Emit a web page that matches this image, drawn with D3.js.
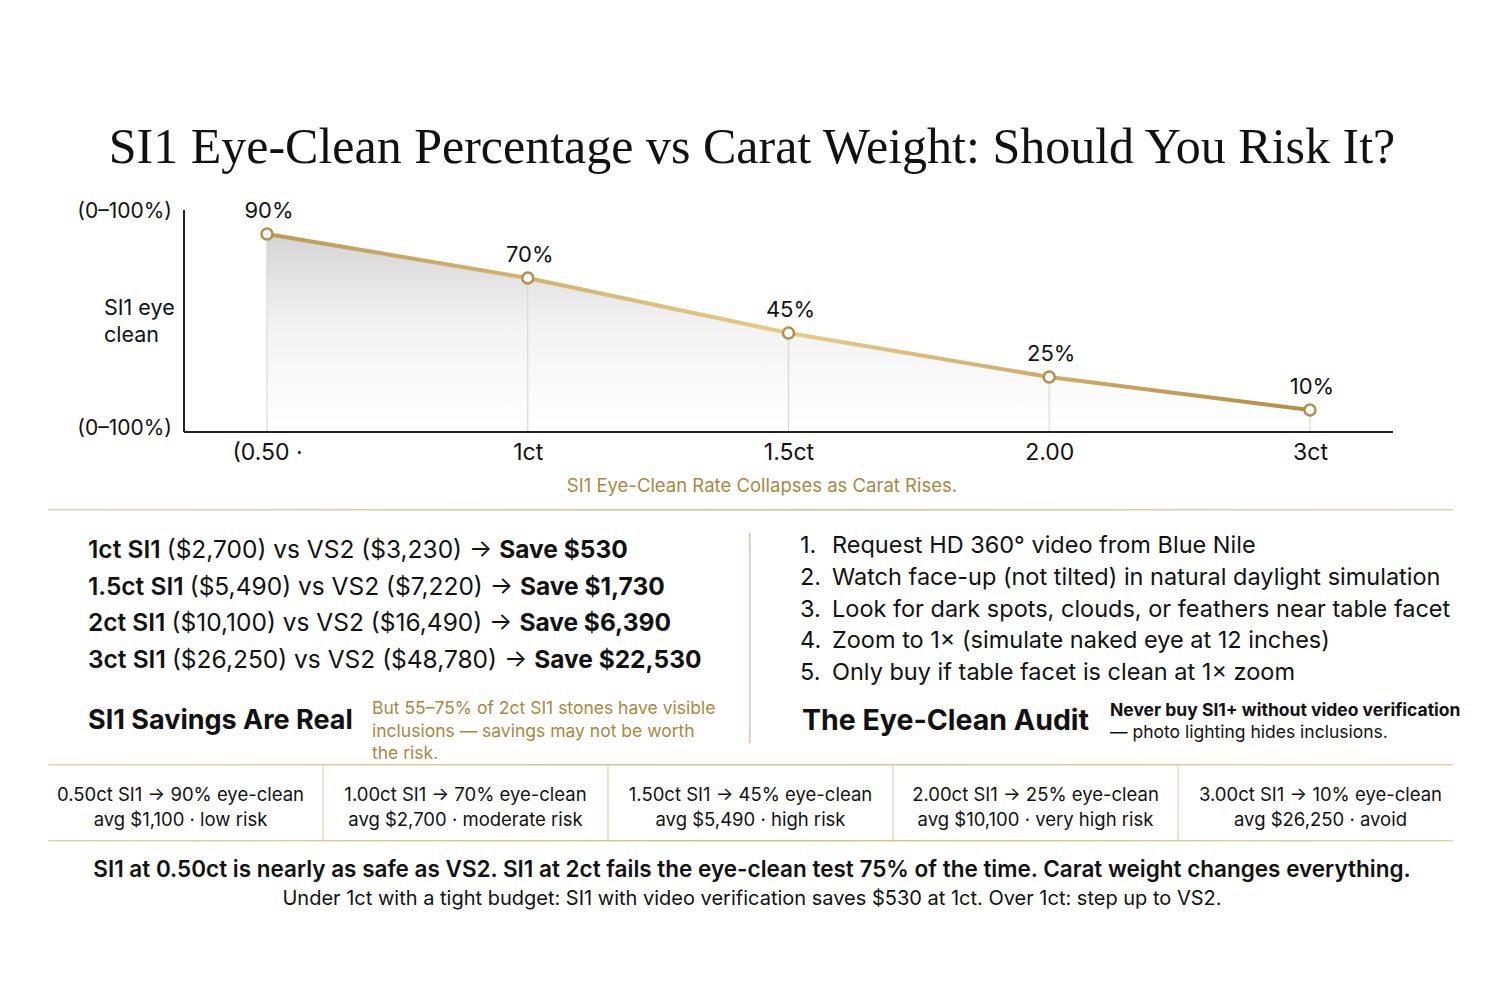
<!DOCTYPE html>
<html>
<head>
<meta charset="utf-8">
<script src="https://cdn.jsdelivr.net/npm/d3@7"></script>
<style>
  body { margin: 0; background: #fff; }
  svg text { font-family: "Inter", "Open Sans", sans-serif; fill: #111; }
</style>
</head>
<body>
<svg id="chart" width="1500" height="1000"></svg>
<script>
// chart data
const caratLabels = ["(0.50 ·", "1ct", "1.5ct", "2.00", "3ct"]
const eyeClean = [90, 70, 45, 25, 10]

// savings block
const saveCarats = ["1ct", "1.5ct", "2ct", "3ct"]
const si1Prices = [2700, 5490, 10100, 26250]
const vs2Prices = [3230, 7220, 16490, 48780]

// audit steps
const auditSteps = [
  "Request HD 360° video from Blue Nile",
  "Watch face-up (not tilted) in natural daylight simulation",
  "Look for dark spots, clouds, or feathers near table facet",
  "Zoom to 1× (simulate naked eye at 12 inches)",
  "Only buy if table facet is clean at 1× zoom"
]

// bottom table
const tableCarats = ["0.50ct", "1.00ct", "1.50ct", "2.00ct", "3.00ct"]
const avgPrices = [1100, 2700, 5490, 10100, 26250]
const riskLevels = ["low risk", "moderate risk", "high risk", "very high risk", "avoid"]

const gold = "#a8883f"
const fmt = d3.format(",")
const svg = d3.select("#chart")
const defs = svg.append("defs")

// gradients
let lineGrad = defs.append("linearGradient").attr("id", "lineGrad")
  .attr("x1", "0%").attr("x2", "100%").attr("y1", "0%").attr("y2", "0%")
lineGrad.append("stop").attr("offset", "0%").attr("stop-color", "#bf9a55")
lineGrad.append("stop").attr("offset", "50%").attr("stop-color", "#e6cc87")
lineGrad.append("stop").attr("offset", "100%").attr("stop-color", "#b48d45")

let areaGrad = defs.append("linearGradient").attr("id", "areaGrad")
  .attr("x1", "0%").attr("x2", "0%").attr("y1", "0%").attr("y2", "100%")
areaGrad.append("stop").attr("offset", "0%").attr("stop-color", "#d4d4d4")
areaGrad.append("stop").attr("offset", "45%").attr("stop-color", "#f2f2f2")
areaGrad.append("stop").attr("offset", "100%").attr("stop-color", "#ffffff")

let ruleGrad = defs.append("linearGradient").attr("id", "ruleGrad")
  .attr("x1", "0%").attr("x2", "100%")
ruleGrad.append("stop").attr("offset", "0%").attr("stop-color", "#e2d3b3")
ruleGrad.append("stop").attr("offset", "50%").attr("stop-color", "#d2bd8e")
ruleGrad.append("stop").attr("offset", "100%").attr("stop-color", "#e2d3b3")

// title
svg.append("text")
  .attr("x", 752).attr("y", 163)
  .attr("text-anchor", "middle")
  .style("font-family", "'Liberation Serif', 'DejaVu Serif', serif")
  .style("font-size", "50px")
  .text("SI1 Eye-Clean Percentage vs Carat Weight: Should You Risk It?")

// scales
const x = d3.scalePoint().domain(caratLabels).range([267, 1310])
const y = d3.scaleLinear().domain([0, 100]).range([432, 212])
const pts = caratLabels.map((c, i) => ({c: c, v: eyeClean[i]}))

// area under line
svg.append("path")
  .datum(pts)
  .attr("fill", "url(#areaGrad)")
  .attr("d", d3.area().x(d => x(d.c)).y0(y(0)).y1(d => y(d.v)))

// drop lines
svg.selectAll(".drop").data(pts).enter().append("line")
  .attr("x1", d => x(d.c)).attr("x2", d => x(d.c))
  .attr("y1", d => y(d.v)).attr("y2", y(0))
  .attr("stroke", "#d8d8d8").attr("stroke-width", 1.2)

// axes
svg.append("line").attr("x1", 184).attr("x2", 184).attr("y1", 210).attr("y2", y(0))
  .attr("stroke", "#222").attr("stroke-width", 2)
let xAxis = svg.append("g").attr("transform", `translate(0,${y(0)})`)
  .call(d3.axisBottom(x).tickSize(0).tickPadding(12))
xAxis.select(".domain").attr("d", "M184,0H1393").attr("stroke", "#222").attr("stroke-width", 2)
xAxis.selectAll("text")
  .style("font-family", "'Inter', 'Open Sans', sans-serif")
  .style("font-size", "23px").attr("fill", "#111")

// y labels
svg.append("text").attr("x", 172).attr("y", 218).attr("text-anchor", "end")
  .style("font-size", "21px").text("(0–100%)")
svg.append("text").attr("x", 172).attr("y", 435).attr("text-anchor", "end")
  .style("font-size", "21px").text("(0–100%)")
svg.append("text").attr("x", 104).attr("y", 315).style("font-size", "21.5px").text("SI1 eye")
svg.append("text").attr("x", 104).attr("y", 342).style("font-size", "21.5px").text("clean")

// line + points
svg.append("path").datum(pts)
  .attr("fill", "none").attr("stroke", "url(#lineGrad)").attr("stroke-width", 4)
  .attr("d", d3.line().x(d => x(d.c)).y(d => y(d.v)))
svg.selectAll(".pt").data(pts).enter().append("circle")
  .attr("cx", d => x(d.c)).attr("cy", d => y(d.v)).attr("r", 5.5)
  .attr("fill", "#fff").attr("stroke", "#b48f4a").attr("stroke-width", 2.5)
svg.selectAll(".vlab").data(pts).enter().append("text")
  .attr("x", d => x(d.c) + 2).attr("y", d => y(d.v) - 16)
  .attr("text-anchor", "middle").style("font-size", "22px")
  .text(d => d.v + "%")

svg.append("text").attr("x", 762).attr("y", 492).attr("text-anchor", "middle")
  .style("font-size", "18.5px").style("fill", gold)
  .text("SI1 Eye-Clean Rate Collapses as Carat Rises.")

// rules
svg.append("rect").attr("x", 48).attr("y", 509).attr("width", 1405).attr("height", 1.5).attr("fill", "url(#ruleGrad)")
svg.append("rect").attr("x", 749).attr("y", 533).attr("width", 1.5).attr("height", 210).attr("fill", "#d8c7a0")

// savings block
const saveRows = saveCarats.map((c, i) => ({c: c, a: si1Prices[i], b: vs2Prices[i]}))
let sv = svg.selectAll(".save").data(saveRows).enter().append("text")
  .attr("x", 88).attr("y", (d, i) => 558 + i * 36.5)
  .style("font-size", "24.5px")
sv.append("tspan").style("font-weight", 600).text(d => d.c + " SI1 ")
sv.append("tspan").text(d => `($${fmt(d.a)}) vs VS2 ($${fmt(d.b)}) → `)
sv.append("tspan").style("font-weight", 700).text(d => "Save $" + fmt(d.b - d.a))

svg.append("text").attr("x", 88).attr("y", 729).style("font-size", "27px").style("font-weight", 700)
  .text("SI1 Savings Are Real")
const realNote = ["But 55–75% of 2ct SI1 stones have visible", "inclusions — savings may not be worth", "the risk."]
svg.selectAll(".note").data(realNote).enter().append("text")
  .attr("x", 372).attr("y", (d, i) => 714 + i * 22.5)
  .style("font-size", "17.5px").style("fill", gold).text(d => d)

// audit list
let au = svg.selectAll(".audit").data(auditSteps).enter().append("g")
au.append("text").attr("x", 800).attr("y", (d, i) => 553 + i * 31.8)
  .style("font-size", "23.5px").text((d, i) => (i + 1) + ".")
au.append("text").attr("x", 832).attr("y", (d, i) => 553 + i * 31.8)
  .style("font-size", "23.5px").text(d => d)

svg.append("text").attr("x", 802).attr("y", 730).style("font-size", "28.5px").style("font-weight", 700)
  .text("The Eye-Clean Audit")
svg.append("text").attr("x", 1110).attr("y", 716).style("font-size", "17.5px").style("font-weight", 700)
  .text("Never buy SI1+ without video verification")
svg.append("text").attr("x", 1110).attr("y", 738).style("font-size", "17.5px")
  .text("— photo lighting hides inclusions.")

// table
const band = d3.scaleBand().domain(tableCarats).range([38, 1463])
svg.append("rect").attr("x", 48).attr("y", 764).attr("width", 1405).attr("height", 1.5).attr("fill", "url(#ruleGrad)")
svg.append("rect").attr("x", 48).attr("y", 840).attr("width", 1405).attr("height", 1.5).attr("fill", "url(#ruleGrad)")
svg.selectAll(".cdiv").data(tableCarats.slice(1)).enter().append("line")
  .attr("x1", d => band(d)).attr("x2", d => band(d)).attr("y1", 765).attr("y2", 840)
  .attr("stroke", "#ddd0b3").attr("stroke-width", 1.2)
let cells = svg.selectAll(".cell").data(tableCarats).enter().append("g")
  .attr("transform", d => `translate(${band(d) + band.bandwidth() / 2},0)`)
cells.append("text").attr("y", 801).attr("text-anchor", "middle").style("font-size", "18.5px")
  .text((d, i) => `${d} SI1 → ${eyeClean[i]}% eye-clean`)
cells.append("text").attr("y", 826).attr("text-anchor", "middle").style("font-size", "18.5px")
  .text((d, i) => `avg $${fmt(avgPrices[i])} · ${riskLevels[i]}`)

// footer
svg.append("text").attr("x", 752).attr("y", 877).attr("text-anchor", "middle")
  .style("font-size", "22.5px").style("font-weight", 600)
  .text("SI1 at 0.50ct is nearly as safe as VS2. SI1 at 2ct fails the eye-clean test 75% of the time. Carat weight changes everything.")
svg.append("text").attr("x", 752).attr("y", 905).attr("text-anchor", "middle")
  .style("font-size", "20px")
  .text("Under 1ct with a tight budget: SI1 with video verification saves $530 at 1ct. Over 1ct: step up to VS2.")
</script>
</body>
</html>
